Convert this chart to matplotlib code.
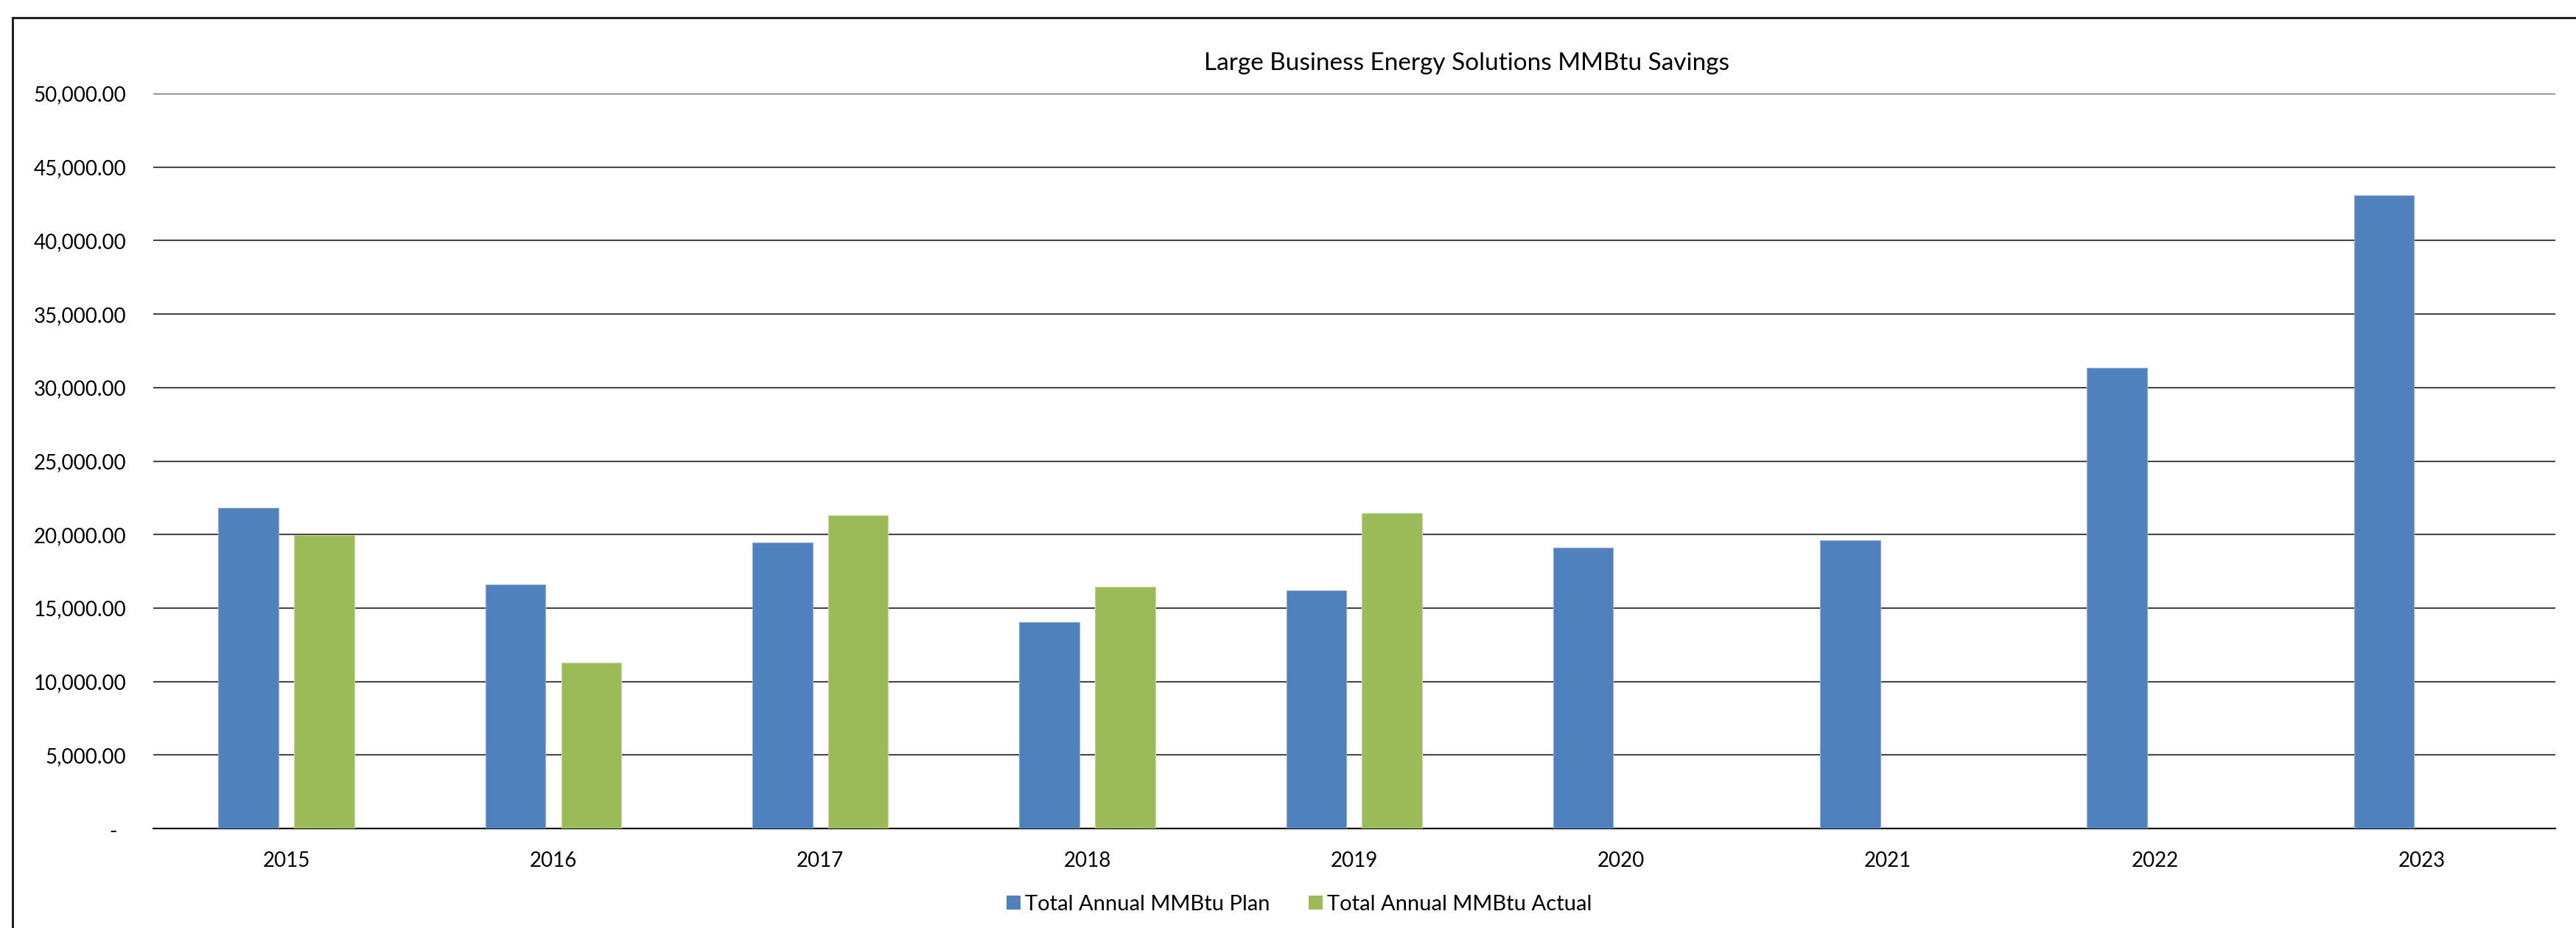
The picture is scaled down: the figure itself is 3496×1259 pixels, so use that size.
import matplotlib
matplotlib.use("Agg")
import matplotlib.pyplot as plt
import matplotlib.transforms as mtrans
from matplotlib.lines import Line2D
from matplotlib.patches import Patch
import numpy as np

# ---- data ----
years = ["2015", "2016", "2017", "2018", "2019", "2020", "2021", "2022", "2023"]
plan = [21800, 16580, 19460, 14030, 16200, 19090, 19600, 31340, 43100]
actual = [19950, 11270, 21300, 16450, 21460, None, None, None, None]
series_names = ["Total Annual MMBtu Plan", "Total Annual MMBtu Actual"]
title = "Large Business Energy Solutions MMBtu Savings"
yticks = [0, 5000, 10000, 15000, 20000, 25000, 30000, 35000, 40000, 45000, 50000]

plt.rcParams['font.family'] = ['Lato', 'DejaVu Sans']

W, H = 3496, 1259
fig = plt.figure(figsize=(W / 100, H / 100), dpi=100)
fig.patch.set_facecolor("white")

left, right = 207.5 / W, 3468 / W
bottom, top = 1 - 1124 / H, 1 - 127 / H
ax = fig.add_axes([left, bottom, right - left, top - bottom])

blue = "#4F81BD"
green = "#9BBB59"
x = np.arange(len(years))
bw = 0.225
off = 0.142

ax.bar(x - off, plan, width=bw, color=blue, edgecolor="#8EABD6", linewidth=0.8, zorder=3)
act_x = [xi + off for xi, v in zip(x, actual) if v is not None]
act_v = [v for v in actual if v is not None]
ax.bar(act_x, act_v, width=bw, color=green, edgecolor="#C6D9A3", linewidth=0.8, zorder=3)

ax.set_xlim(-0.5, len(years) - 0.5)
ax.set_ylim(0, 50000)
ax.set_yticks(yticks)
ax.set_yticklabels(["" if v == 0 else f"{v:,.2f}" for v in yticks])
ax.set_xticks(x)
ax.set_xticklabels(years)

ax.tick_params(axis="y", length=0, pad=26, labelsize=20, colors="black")
ax.tick_params(axis="x", length=0, pad=22, labelsize=20, colors="black")

# zero label as in accounting format
ax.text(153 / W, -250, "-",
        transform=mtrans.blended_transform_factory(fig.transFigure, ax.transData),
        ha="center", va="center", fontsize=20, color="black")

ax.grid(axis="y", color="#474747", linewidth=1.5, zorder=1)
ax.set_axisbelow(True)
for s in ["left", "right", "top"]:
    ax.spines[s].set_visible(False)
ax.spines["bottom"].set_color("black")
ax.spines["bottom"].set_linewidth(1.5)
ax.spines["bottom"].set_zorder(2)

# title
fig.text(1990 / W, 1 - 95 / H, title, ha="center", va="baseline", fontsize=24, color="black")

# legend
handles = [Patch(facecolor=blue, edgecolor="none"), Patch(facecolor=green, edgecolor="none")]
leg = fig.legend(handles, series_names, loc="center", bbox_to_anchor=(1763 / W, 1 - 1227 / H),
                 ncol=2, frameon=False, fontsize=21, handlelength=0.65, handleheight=0.65,
                 handletextpad=0.2, columnspacing=1.8)

# outer chart frame (partially cropped)
fig.add_artist(Line2D([17 / W, 17 / W], [0, 1 - 24 / H], transform=fig.transFigure,
                      color="#222222", linewidth=2.2))
fig.add_artist(Line2D([17 / W, 1], [1 - 24 / H, 1 - 24 / H], transform=fig.transFigure,
                      color="#222222", linewidth=2.2))

fig.savefig("out.png", dpi=100, facecolor="white")
